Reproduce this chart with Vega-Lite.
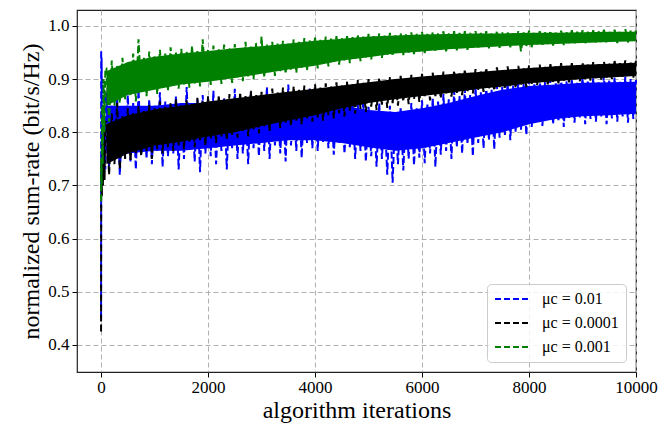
{
"$schema":"https://vega.github.io/schema/vega-lite/v6.json",
"width":559,"height":362,"autosize":"none",
"padding":{"left":77,"top":10,"right":32,"bottom":56},
"datasets":{
"blueBand":[{"x":100,"lo":0.76,"hi":0.85},{"x":500,"lo":0.76,"hi":0.85},{"x":1000,"lo":0.765,"hi":0.85},{"x":1500,"lo":0.765,"hi":0.855},{"x":2000,"lo":0.77,"hi":0.855},{"x":2500,"lo":0.775,"hi":0.86},{"x":3000,"lo":0.78,"hi":0.862},{"x":3500,"lo":0.785,"hi":0.865},{"x":4000,"lo":0.785,"hi":0.858},{"x":4500,"lo":0.78,"hi":0.85},{"x":5000,"lo":0.772,"hi":0.842},{"x":5500,"lo":0.765,"hi":0.838},{"x":6000,"lo":0.77,"hi":0.845},{"x":6500,"lo":0.78,"hi":0.855},{"x":7000,"lo":0.79,"hi":0.868},{"x":7500,"lo":0.8,"hi":0.88},{"x":8000,"lo":0.815,"hi":0.887},{"x":8500,"lo":0.825,"hi":0.89},{"x":9000,"lo":0.83,"hi":0.893},{"x":9500,"lo":0.832,"hi":0.894},{"x":10000,"lo":0.835,"hi":0.895}],
"blackBand":[{"x":100,"lo":0.74,"hi":0.815},{"x":500,"lo":0.76,"hi":0.832},{"x":1000,"lo":0.775,"hi":0.843},{"x":1500,"lo":0.782,"hi":0.85},{"x":2000,"lo":0.792,"hi":0.858},{"x":2500,"lo":0.8,"hi":0.864},{"x":3000,"lo":0.812,"hi":0.87},{"x":3500,"lo":0.822,"hi":0.876},{"x":4000,"lo":0.832,"hi":0.882},{"x":4500,"lo":0.845,"hi":0.888},{"x":5000,"lo":0.855,"hi":0.894},{"x":5500,"lo":0.862,"hi":0.9},{"x":6000,"lo":0.868,"hi":0.905},{"x":6500,"lo":0.874,"hi":0.909},{"x":7000,"lo":0.881,"hi":0.913},{"x":7500,"lo":0.886,"hi":0.917},{"x":8000,"lo":0.892,"hi":0.921},{"x":8500,"lo":0.896,"hi":0.924},{"x":9000,"lo":0.9,"hi":0.927},{"x":9500,"lo":0.903,"hi":0.929},{"x":10000,"lo":0.906,"hi":0.931}],
"greenBand":[{"x":100,"lo":0.85,"hi":0.915},{"x":500,"lo":0.87,"hi":0.932},{"x":1000,"lo":0.88,"hi":0.942},{"x":1500,"lo":0.89,"hi":0.948},{"x":2000,"lo":0.895,"hi":0.953},{"x":2500,"lo":0.902,"hi":0.958},{"x":3000,"lo":0.91,"hi":0.962},{"x":3500,"lo":0.918,"hi":0.967},{"x":4000,"lo":0.925,"hi":0.972},{"x":4500,"lo":0.935,"hi":0.976},{"x":5000,"lo":0.941,"hi":0.98},{"x":5500,"lo":0.948,"hi":0.982},{"x":6000,"lo":0.952,"hi":0.984},{"x":6500,"lo":0.956,"hi":0.985},{"x":7000,"lo":0.959,"hi":0.986},{"x":7500,"lo":0.962,"hi":0.986},{"x":8000,"lo":0.964,"hi":0.987},{"x":8500,"lo":0.966,"hi":0.987},{"x":9000,"lo":0.968,"hi":0.988},{"x":9500,"lo":0.97,"hi":0.989},{"x":10000,"lo":0.971,"hi":0.989}],
"blue":[{"x":0,"y":0.45},{"x":2,"y":0.955},{"x":5,"y":0.7},{"x":10,"y":0.94},{"x":20,"y":0.74},{"x":30,"y":0.9},{"x":45,"y":0.72},{"x":60,"y":0.88},{"x":80,"y":0.73},
{"x":100,"y":0.875},{"x":150,"y":0.735},{"x":200,"y":0.85},{"x":250,"y":0.76},{"x":300,"y":0.865},{"x":350,"y":0.72},{"x":400,"y":0.84},{"x":450,"y":0.755},{"x":500,"y":0.87},{"x":550,"y":0.745},{"x":600,"y":0.855},{"x":650,"y":0.73},{"x":700,"y":0.88},{"x":750,"y":0.76},{"x":800,"y":0.845},{"x":850,"y":0.75},{"x":900,"y":0.862},{"x":950,"y":0.74},{"x":1000,"y":0.85},{"x":1050,"y":0.765},{"x":1100,"y":0.875},{"x":1150,"y":0.735},{"x":1200,"y":0.858},{"x":1250,"y":0.755},{"x":1300,"y":0.842},{"x":1350,"y":0.76},{"x":1400,"y":0.868},{"x":1450,"y":0.73},{"x":1500,"y":0.855},{"x":1550,"y":0.75},{"x":1600,"y":0.885},{"x":1650,"y":0.765},{"x":1700,"y":0.85},{"x":1750,"y":0.745},{"x":1800,"y":0.862},{"x":1850,"y":0.725},{"x":1900,"y":0.87},{"x":1950,"y":0.76},{"x":2000,"y":0.855},{"x":2050,"y":0.755},{"x":2100,"y":0.878},{"x":2150,"y":0.74},{"x":2200,"y":0.848},{"x":2250,"y":0.765},{"x":2300,"y":0.866},{"x":2350,"y":0.73},{"x":2400,"y":0.857},{"x":2450,"y":0.77},{"x":2500,"y":0.882},{"x":2550,"y":0.75},{"x":2600,"y":0.86},{"x":2650,"y":0.76},{"x":2700,"y":0.852},{"x":2750,"y":0.74},{"x":2800,"y":0.875},{"x":2850,"y":0.77},{"x":2900,"y":0.862},{"x":2950,"y":0.755},{"x":3000,"y":0.87},{"x":3050,"y":0.765},{"x":3100,"y":0.885},{"x":3150,"y":0.75},{"x":3200,"y":0.858},{"x":3250,"y":0.775},{"x":3300,"y":0.872},{"x":3350,"y":0.76},{"x":3400,"y":0.865},{"x":3450,"y":0.745},{"x":3500,"y":0.89},{"x":3550,"y":0.775},{"x":3600,"y":0.862},{"x":3650,"y":0.765},{"x":3700,"y":0.878},{"x":3750,"y":0.752},{"x":3800,"y":0.868},{"x":3850,"y":0.78},{"x":3900,"y":0.882},{"x":3950,"y":0.77},{"x":4000,"y":0.858},{"x":4050,"y":0.765},{"x":4100,"y":0.872},{"x":4150,"y":0.782},{"x":4200,"y":0.855},{"x":4250,"y":0.77},{"x":4300,"y":0.866},{"x":4350,"y":0.758},{"x":4400,"y":0.85},{"x":4450,"y":0.78},{"x":4500,"y":0.862},{"x":4550,"y":0.76},{"x":4600,"y":0.845},{"x":4650,"y":0.772},{"x":4700,"y":0.858},{"x":4750,"y":0.75},{"x":4800,"y":0.852},{"x":4850,"y":0.765},{"x":4900,"y":0.86},{"x":4950,"y":0.745},{"x":5000,"y":0.848},{"x":5050,"y":0.755},{"x":5100,"y":0.842},{"x":5150,"y":0.735},{"x":5200,"y":0.855},{"x":5250,"y":0.75},{"x":5300,"y":0.838},{"x":5350,"y":0.72},{"x":5400,"y":0.85},{"x":5450,"y":0.705},{"x":5500,"y":0.835},{"x":5550,"y":0.74},{"x":5600,"y":0.848},{"x":5650,"y":0.728},{"x":5700,"y":0.84},{"x":5750,"y":0.75},{"x":5800,"y":0.855},{"x":5850,"y":0.738},{"x":5900,"y":0.845},{"x":5950,"y":0.752},{"x":6000,"y":0.86},{"x":6050,"y":0.742},{"x":6100,"y":0.852},{"x":6150,"y":0.76},{"x":6200,"y":0.865},{"x":6250,"y":0.735},{"x":6300,"y":0.858},{"x":6350,"y":0.758},{"x":6400,"y":0.872},{"x":6450,"y":0.765},{"x":6500,"y":0.862},{"x":6550,"y":0.75},{"x":6600,"y":0.878},{"x":6650,"y":0.772},{"x":6700,"y":0.868},{"x":6750,"y":0.76},{"x":6800,"y":0.882},{"x":6850,"y":0.778},{"x":6900,"y":0.87},{"x":6950,"y":0.755},{"x":7000,"y":0.885},{"x":7050,"y":0.78},{"x":7100,"y":0.875},{"x":7150,"y":0.77},{"x":7200,"y":0.89},{"x":7250,"y":0.785},{"x":7300,"y":0.88},{"x":7350,"y":0.768},{"x":7400,"y":0.888},{"x":7450,"y":0.79},{"x":7500,"y":0.885},{"x":7550,"y":0.795},{"x":7600,"y":0.895},{"x":7650,"y":0.785},{"x":7700,"y":0.888},{"x":7750,"y":0.8},{"x":7800,"y":0.9},{"x":7850,"y":0.805},{"x":7900,"y":0.892},{"x":7950,"y":0.795},{"x":8000,"y":0.898},{"x":8050,"y":0.81},{"x":8100,"y":0.89},{"x":8150,"y":0.82},{"x":8200,"y":0.902},{"x":8250,"y":0.812},{"x":8300,"y":0.895},{"x":8350,"y":0.825},{"x":8400,"y":0.9},{"x":8450,"y":0.815},{"x":8500,"y":0.892},{"x":8550,"y":0.82},{"x":8600,"y":0.905},{"x":8650,"y":0.81},{"x":8700,"y":0.896},{"x":8750,"y":0.825},{"x":8800,"y":0.9},{"x":8850,"y":0.818},{"x":8900,"y":0.893},{"x":8950,"y":0.828},{"x":9000,"y":0.904},{"x":9050,"y":0.815},{"x":9100,"y":0.897},{"x":9150,"y":0.825},{"x":9200,"y":0.902},{"x":9250,"y":0.82},{"x":9300,"y":0.894},{"x":9350,"y":0.83},{"x":9400,"y":0.906},{"x":9450,"y":0.815},{"x":9500,"y":0.898},{"x":9550,"y":0.826},{"x":9600,"y":0.903},{"x":9650,"y":0.82},{"x":9700,"y":0.895},{"x":9750,"y":0.83},{"x":9800,"y":0.905},{"x":9850,"y":0.818},{"x":9900,"y":0.9},{"x":9950,"y":0.825},{"x":10000,"y":0.898}],
"black":[{"x":0,"y":0.425},{"x":3,"y":0.69},{"x":8,"y":0.75},{"x":15,"y":0.68},{"x":25,"y":0.78},{"x":35,"y":0.7},{"x":50,"y":0.8},{"x":65,"y":0.71},{"x":80,"y":0.82},
{"x":100,"y":0.82},{"x":150,"y":0.72},{"x":200,"y":0.835},{"x":250,"y":0.74},{"x":300,"y":0.855},{"x":350,"y":0.73},{"x":400,"y":0.83},{"x":450,"y":0.75},{"x":500,"y":0.845},{"x":550,"y":0.745},{"x":600,"y":0.838},{"x":650,"y":0.76},{"x":700,"y":0.85},{"x":750,"y":0.755},{"x":800,"y":0.84},{"x":850,"y":0.765},{"x":900,"y":0.852},{"x":950,"y":0.75},{"x":1000,"y":0.845},{"x":1050,"y":0.768},{"x":1100,"y":0.858},{"x":1150,"y":0.76},{"x":1200,"y":0.848},{"x":1250,"y":0.772},{"x":1300,"y":0.855},{"x":1350,"y":0.765},{"x":1400,"y":0.862},{"x":1450,"y":0.775},{"x":1500,"y":0.85},{"x":1550,"y":0.768},{"x":1600,"y":0.86},{"x":1650,"y":0.78},{"x":1700,"y":0.855},{"x":1750,"y":0.772},{"x":1800,"y":0.865},{"x":1850,"y":0.785},{"x":1900,"y":0.858},{"x":1950,"y":0.775},{"x":2000,"y":0.868},{"x":2050,"y":0.788},{"x":2100,"y":0.86},{"x":2150,"y":0.78},{"x":2200,"y":0.87},{"x":2250,"y":0.792},{"x":2300,"y":0.862},{"x":2350,"y":0.785},{"x":2400,"y":0.872},{"x":2450,"y":0.795},{"x":2500,"y":0.865},{"x":2550,"y":0.79},{"x":2600,"y":0.875},{"x":2650,"y":0.8},{"x":2700,"y":0.868},{"x":2750,"y":0.792},{"x":2800,"y":0.878},{"x":2850,"y":0.805},{"x":2900,"y":0.87},{"x":2950,"y":0.798},{"x":3000,"y":0.876},{"x":3050,"y":0.81},{"x":3100,"y":0.872},{"x":3150,"y":0.802},{"x":3200,"y":0.882},{"x":3250,"y":0.815},{"x":3300,"y":0.875},{"x":3350,"y":0.808},{"x":3400,"y":0.884},{"x":3450,"y":0.818},{"x":3500,"y":0.877},{"x":3550,"y":0.812},{"x":3600,"y":0.886},{"x":3650,"y":0.822},{"x":3700,"y":0.88},{"x":3750,"y":0.815},{"x":3800,"y":0.888},{"x":3850,"y":0.825},{"x":3900,"y":0.882},{"x":3950,"y":0.82},{"x":4000,"y":0.89},{"x":4050,"y":0.828},{"x":4100,"y":0.884},{"x":4150,"y":0.822},{"x":4200,"y":0.892},{"x":4250,"y":0.832},{"x":4300,"y":0.886},{"x":4350,"y":0.826},{"x":4400,"y":0.894},{"x":4450,"y":0.836},{"x":4500,"y":0.888},{"x":4550,"y":0.83},{"x":4600,"y":0.896},{"x":4650,"y":0.84},{"x":4700,"y":0.89},{"x":4750,"y":0.835},{"x":4800,"y":0.898},{"x":4850,"y":0.844},{"x":4900,"y":0.893},{"x":4950,"y":0.838},{"x":5000,"y":0.9},{"x":5050,"y":0.848},{"x":5100,"y":0.895},{"x":5150,"y":0.842},{"x":5200,"y":0.902},{"x":5250,"y":0.852},{"x":5300,"y":0.897},{"x":5350,"y":0.846},{"x":5400,"y":0.904},{"x":5450,"y":0.855},{"x":5500,"y":0.899},{"x":5550,"y":0.85},{"x":5600,"y":0.906},{"x":5650,"y":0.858},{"x":5700,"y":0.9},{"x":5750,"y":0.853},{"x":5800,"y":0.908},{"x":5850,"y":0.862},{"x":5900,"y":0.903},{"x":5950,"y":0.857},{"x":6000,"y":0.91},{"x":6050,"y":0.865},{"x":6100,"y":0.905},{"x":6150,"y":0.86},{"x":6200,"y":0.912},{"x":6250,"y":0.868},{"x":6300,"y":0.907},{"x":6350,"y":0.864},{"x":6400,"y":0.914},{"x":6450,"y":0.871},{"x":6500,"y":0.909},{"x":6550,"y":0.867},{"x":6600,"y":0.916},{"x":6650,"y":0.874},{"x":6700,"y":0.911},{"x":6750,"y":0.87},{"x":6800,"y":0.918},{"x":6850,"y":0.877},{"x":6900,"y":0.913},{"x":6950,"y":0.873},{"x":7000,"y":0.919},{"x":7050,"y":0.88},{"x":7100,"y":0.914},{"x":7150,"y":0.876},{"x":7200,"y":0.921},{"x":7250,"y":0.882},{"x":7300,"y":0.916},{"x":7350,"y":0.878},{"x":7400,"y":0.922},{"x":7450,"y":0.885},{"x":7500,"y":0.917},{"x":7550,"y":0.881},{"x":7600,"y":0.924},{"x":7650,"y":0.887},{"x":7700,"y":0.919},{"x":7750,"y":0.883},{"x":7800,"y":0.925},{"x":7850,"y":0.889},{"x":7900,"y":0.92},{"x":7950,"y":0.885},{"x":8000,"y":0.926},{"x":8050,"y":0.891},{"x":8100,"y":0.921},{"x":8150,"y":0.888},{"x":8200,"y":0.927},{"x":8250,"y":0.893},{"x":8300,"y":0.923},{"x":8350,"y":0.89},{"x":8400,"y":0.928},{"x":8450,"y":0.895},{"x":8500,"y":0.924},{"x":8550,"y":0.892},{"x":8600,"y":0.93},{"x":8650,"y":0.897},{"x":8700,"y":0.925},{"x":8750,"y":0.894},{"x":8800,"y":0.93},{"x":8850,"y":0.899},{"x":8900,"y":0.926},{"x":8950,"y":0.896},{"x":9000,"y":0.931},{"x":9050,"y":0.9},{"x":9100,"y":0.927},{"x":9150,"y":0.897},{"x":9200,"y":0.932},{"x":9250,"y":0.902},{"x":9300,"y":0.928},{"x":9350,"y":0.899},{"x":9400,"y":0.933},{"x":9450,"y":0.903},{"x":9500,"y":0.929},{"x":9550,"y":0.9},{"x":9600,"y":0.934},{"x":9650,"y":0.905},{"x":9700,"y":0.93},{"x":9750,"y":0.902},{"x":9800,"y":0.935},{"x":9850,"y":0.906},{"x":9900,"y":0.931},{"x":9950,"y":0.903},{"x":10000,"y":0.935}],
"green":[{"x":0,"y":0.67},{"x":4,"y":0.75},{"x":10,"y":0.7},{"x":20,"y":0.85},{"x":30,"y":0.74},{"x":45,"y":0.9},{"x":60,"y":0.8},{"x":80,"y":0.92},
{"x":100,"y":0.92},{"x":150,"y":0.82},{"x":200,"y":0.935},{"x":250,"y":0.85},{"x":300,"y":0.925},{"x":350,"y":0.855},{"x":400,"y":0.94},{"x":450,"y":0.862},{"x":500,"y":0.93},{"x":550,"y":0.87},{"x":600,"y":0.948},{"x":650,"y":0.858},{"x":700,"y":0.975},{"x":750,"y":0.875},{"x":800,"y":0.94},{"x":850,"y":0.868},{"x":900,"y":0.952},{"x":950,"y":0.88},{"x":1000,"y":0.945},{"x":1050,"y":0.872},{"x":1100,"y":0.955},{"x":1150,"y":0.885},{"x":1200,"y":0.948},{"x":1250,"y":0.878},{"x":1300,"y":0.96},{"x":1350,"y":0.888},{"x":1400,"y":0.95},{"x":1450,"y":0.882},{"x":1500,"y":0.957},{"x":1550,"y":0.89},{"x":1600,"y":0.952},{"x":1650,"y":0.884},{"x":1700,"y":0.962},{"x":1750,"y":0.892},{"x":1800,"y":0.955},{"x":1850,"y":0.886},{"x":1900,"y":0.975},{"x":1950,"y":0.895},{"x":2000,"y":0.957},{"x":2050,"y":0.889},{"x":2100,"y":0.963},{"x":2150,"y":0.897},{"x":2200,"y":0.956},{"x":2250,"y":0.891},{"x":2300,"y":0.965},{"x":2350,"y":0.9},{"x":2400,"y":0.958},{"x":2450,"y":0.893},{"x":2500,"y":0.966},{"x":2550,"y":0.902},{"x":2600,"y":0.96},{"x":2650,"y":0.896},{"x":2700,"y":0.97},{"x":2750,"y":0.905},{"x":2800,"y":0.962},{"x":2850,"y":0.9},{"x":2900,"y":0.968},{"x":2950,"y":0.908},{"x":3000,"y":0.98},{"x":3050,"y":0.903},{"x":3100,"y":0.965},{"x":3150,"y":0.912},{"x":3200,"y":0.97},{"x":3250,"y":0.906},{"x":3300,"y":0.967},{"x":3350,"y":0.915},{"x":3400,"y":0.972},{"x":3450,"y":0.91},{"x":3500,"y":0.968},{"x":3550,"y":0.918},{"x":3600,"y":0.975},{"x":3650,"y":0.912},{"x":3700,"y":0.97},{"x":3750,"y":0.921},{"x":3800,"y":0.977},{"x":3850,"y":0.916},{"x":3900,"y":0.973},{"x":3950,"y":0.925},{"x":4000,"y":0.978},{"x":4050,"y":0.92},{"x":4100,"y":0.974},{"x":4150,"y":0.928},{"x":4200,"y":0.98},{"x":4250,"y":0.924},{"x":4300,"y":0.976},{"x":4350,"y":0.932},{"x":4400,"y":0.981},{"x":4450,"y":0.927},{"x":4500,"y":0.978},{"x":4550,"y":0.935},{"x":4600,"y":0.983},{"x":4650,"y":0.93},{"x":4700,"y":0.979},{"x":4750,"y":0.938},{"x":4800,"y":0.984},{"x":4850,"y":0.934},{"x":4900,"y":0.98},{"x":4950,"y":0.941},{"x":5000,"y":0.985},{"x":5050,"y":0.937},{"x":5100,"y":0.981},{"x":5150,"y":0.944},{"x":5200,"y":0.986},{"x":5250,"y":0.94},{"x":5300,"y":0.982},{"x":5350,"y":0.946},{"x":5400,"y":0.987},{"x":5450,"y":0.943},{"x":5500,"y":0.983},{"x":5550,"y":0.948},{"x":5600,"y":0.987},{"x":5650,"y":0.945},{"x":5700,"y":0.984},{"x":5750,"y":0.95},{"x":5800,"y":0.988},{"x":5850,"y":0.947},{"x":5900,"y":0.985},{"x":5950,"y":0.952},{"x":6000,"y":0.989},{"x":6050,"y":0.949},{"x":6100,"y":0.985},{"x":6150,"y":0.954},{"x":6200,"y":0.989},{"x":6250,"y":0.951},{"x":6300,"y":0.986},{"x":6350,"y":0.955},{"x":6400,"y":0.99},{"x":6450,"y":0.952},{"x":6500,"y":0.986},{"x":6550,"y":0.957},{"x":6600,"y":0.99},{"x":6650,"y":0.954},{"x":6700,"y":0.987},{"x":6750,"y":0.958},{"x":6800,"y":0.99},{"x":6850,"y":0.955},{"x":6900,"y":0.987},{"x":6950,"y":0.96},{"x":7000,"y":0.99},{"x":7050,"y":0.957},{"x":7100,"y":0.987},{"x":7150,"y":0.961},{"x":7200,"y":0.99},{"x":7250,"y":0.958},{"x":7300,"y":0.988},{"x":7350,"y":0.962},{"x":7400,"y":0.991},{"x":7450,"y":0.959},{"x":7500,"y":0.988},{"x":7550,"y":0.963},{"x":7600,"y":0.99},{"x":7650,"y":0.96},{"x":7700,"y":0.987},{"x":7750,"y":0.964},{"x":7800,"y":0.99},{"x":7850,"y":0.952},{"x":7900,"y":0.988},{"x":7950,"y":0.962},{"x":8000,"y":0.991},{"x":8050,"y":0.96},{"x":8100,"y":0.988},{"x":8150,"y":0.965},{"x":8200,"y":0.99},{"x":8250,"y":0.962},{"x":8300,"y":0.988},{"x":8350,"y":0.966},{"x":8400,"y":0.991},{"x":8450,"y":0.963},{"x":8500,"y":0.988},{"x":8550,"y":0.967},{"x":8600,"y":0.991},{"x":8650,"y":0.964},{"x":8700,"y":0.989},{"x":8750,"y":0.968},{"x":8800,"y":0.992},{"x":8850,"y":0.965},{"x":8900,"y":0.989},{"x":8950,"y":0.969},{"x":9000,"y":0.992},{"x":9050,"y":0.966},{"x":9100,"y":0.989},{"x":9150,"y":0.97},{"x":9200,"y":0.992},{"x":9250,"y":0.967},{"x":9300,"y":0.99},{"x":9350,"y":0.97},{"x":9400,"y":0.993},{"x":9450,"y":0.968},{"x":9500,"y":0.99},{"x":9550,"y":0.971},{"x":9600,"y":0.993},{"x":9650,"y":0.968},{"x":9700,"y":0.99},{"x":9750,"y":0.971},{"x":9800,"y":0.994},{"x":9850,"y":0.969},{"x":9900,"y":0.991},{"x":9950,"y":0.972},{"x":10000,"y":0.992}]
},
"encoding":{
"x":{"field":"x","type":"quantitative","scale":{"domain":[-450,10000],"nice":false,"zero":false},
"axis":{"values":[0,2000,4000,6000,8000,10000],"format":"d","title":"algorithm iterations"}}
},
"layer":[
{"data":{"name":"blueBand"},"mark":{"type":"area","color":"#0000ff","opacity":1},
 "encoding":{"y":{"field":"lo","type":"quantitative","title":"normalized sum-rate (bit/s/Hz)","scale":{"domain":[0.349,1.03],"nice":false,"zero":false},"axis":{"values":[0.4,0.5,0.6,0.7,0.8,0.9,1.0],"format":".1f"}},"y2":{"field":"hi"}}},
{"data":{"name":"blue"},"transform":[{"calculate":"'0.01'","as":"s"}],"mark":{"type":"line","strokeWidth":2,"strokeDash":[7,3]},
 "encoding":{"y":{"field":"y","type":"quantitative","title":"normalized sum-rate (bit/s/Hz)","scale":{"domain":[0.349,1.03],"nice":false,"zero":false},"axis":{"values":[0.4,0.5,0.6,0.7,0.8,0.9,1.0],"format":".1f"}},
 "color":{"field":"s","type":"nominal","scale":{"domain":["0.01","0.0001","0.001"],"range":["#0000ff","#000000","#008000"]},"legend":{"title":null,"labelExpr":"'μc = ' + datum.label"}}}},
{"data":{"name":"blackBand"},"mark":{"type":"area","color":"#000000","opacity":1},
 "encoding":{"y":{"field":"lo","type":"quantitative","title":"normalized sum-rate (bit/s/Hz)","scale":{"domain":[0.349,1.03],"nice":false,"zero":false},"axis":{"values":[0.4,0.5,0.6,0.7,0.8,0.9,1.0],"format":".1f"}},"y2":{"field":"hi"}}},
{"data":{"name":"black"},"transform":[{"calculate":"'0.0001'","as":"s"}],"mark":{"type":"line","strokeWidth":2,"strokeDash":[7,3]},
 "encoding":{"y":{"field":"y","type":"quantitative","title":"normalized sum-rate (bit/s/Hz)","scale":{"domain":[0.349,1.03],"nice":false,"zero":false},"axis":{"values":[0.4,0.5,0.6,0.7,0.8,0.9,1.0],"format":".1f"}},
 "color":{"field":"s","type":"nominal","scale":{"domain":["0.01","0.0001","0.001"],"range":["#0000ff","#000000","#008000"]},"legend":{"title":null,"labelExpr":"'μc = ' + datum.label"}}}},
{"data":{"name":"greenBand"},"mark":{"type":"area","color":"#008000","opacity":1},
 "encoding":{"y":{"field":"lo","type":"quantitative","title":"normalized sum-rate (bit/s/Hz)","scale":{"domain":[0.349,1.03],"nice":false,"zero":false},"axis":{"values":[0.4,0.5,0.6,0.7,0.8,0.9,1.0],"format":".1f"}},"y2":{"field":"hi"}}},
{"data":{"name":"green"},"transform":[{"calculate":"'0.001'","as":"s"}],"mark":{"type":"line","strokeWidth":2,"strokeDash":[7,3]},
 "encoding":{"y":{"field":"y","type":"quantitative","title":"normalized sum-rate (bit/s/Hz)","scale":{"domain":[0.349,1.03],"nice":false,"zero":false},"axis":{"values":[0.4,0.5,0.6,0.7,0.8,0.9,1.0],"format":".1f"}},
 "color":{"field":"s","type":"nominal","scale":{"domain":["0.01","0.0001","0.001"],"range":["#0000ff","#000000","#008000"]},"legend":{"title":null,"labelExpr":"'μc = ' + datum.label"}}}}
],
"resolve":{"scale":{"y":"shared","color":"shared"}},
"config":{"view":{"stroke":"#222222","strokeWidth":1.2},"font":"Liberation Serif",
 "axis":{"grid":true,"gridDash":[5,3],"gridColor":"#b0b0b0","gridWidth":1,"domain":false,"tickColor":"#000000","tickSize":5,"labelFontSize":17,"labelColor":"#000000","labelFlush":false,"titleFontSize":24,"titleFontWeight":"normal","titleColor":"#000000"},
 "axisX":{"labelPadding":2,"titlePadding":3},
 "axisY":{"labelPadding":3,"titlePadding":4},
 "legend":{"orient":"bottom-right","offset":10,"padding":7,"strokeColor":"#cccccc","fillColor":"rgba(255,255,255,0.85)","cornerRadius":4,"symbolType":"stroke","symbolStrokeWidth":2,"symbolDash":[6,3],"symbolSize":1089,"clipHeight":16,"rowPadding":8,"labelFontSize":16,"labelColor":"#000000","labelOffset":13}
}
}
